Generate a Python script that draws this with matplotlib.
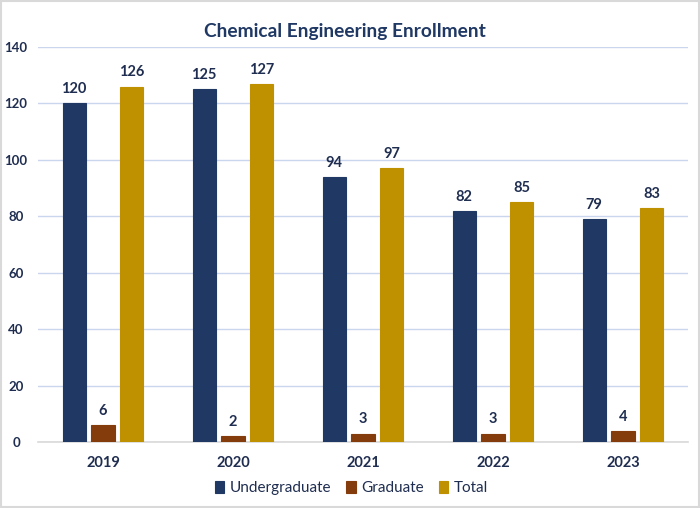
import matplotlib
matplotlib.use("Agg")
import matplotlib.pyplot as plt
import numpy as np

years = ["2019", "2020", "2021", "2022", "2023"]
undergraduate = [120, 125, 94, 82, 79]
graduate = [6, 2, 3, 3, 4]
total = [126, 127, 97, 85, 83]

plt.rcParams['font.family'] = ['Lato', 'DejaVu Sans']
navy = "#1F3864"
brown = "#843C0C"
gold = "#BF9000"
txt = "#1F2D50"

fig = plt.figure(figsize=(7, 5.08), dpi=100)
ax = fig.add_axes([38/700, 1-442/508, 650/700, 395/508])

x = np.arange(len(years))
w = 0.177
off = 0.223
series = [(undergraduate, navy, "Undergraduate"), (graduate, brown, "Graduate"), (total, gold, "Total")]
for i, (vals, col, lab) in enumerate(series):
    bars = ax.bar(x + (i-1)*off, vals, w, color=col, label=lab, zorder=3, edgecolor=col, linewidth=0.8)
    for b, v in zip(bars, vals):
        ax.text(b.get_x()+b.get_width()/2, v + 2.5, str(v), ha='center', va='bottom',
                fontsize=10.5, fontweight='bold', color=txt)

ax.set_xlim(-0.5, 4.5)
ax.set_ylim(0, 140)
ax.set_yticks(range(0, 141, 20))
ax.yaxis.grid(True, color="#C9D6EE", linewidth=1, zorder=0)
ax.set_axisbelow(True)
for s in ['top', 'right', 'left']:
    ax.spines[s].set_visible(False)
ax.spines['bottom'].set_color("#D9D9D9")
ax.spines['bottom'].set_linewidth(1.2)
ax.tick_params(axis='y', length=0, labelsize=9.5, colors=txt, pad=15.8)
ax.tick_params(axis='x', length=0, labelsize=10.5, colors=txt, pad=10)
ax.set_xticks(x)
ax.set_xticklabels(years)
for lbl in ax.get_xticklabels() + ax.get_yticklabels():
    lbl.set_fontweight('bold')
for lbl in ax.get_yticklabels():
    lbl.set_horizontalalignment('center')

fig.text(0.493, 1-31/508, "Chemical Engineering Enrollment", ha='center', va='center',
         fontsize=13.8, fontweight='bold', color=navy)

leg = fig.legend(loc='center', bbox_to_anchor=(0.502, 1-488/508), ncol=3, frameon=False,
                 fontsize=11, handlelength=0.6, handleheight=0.8, handletextpad=0.35,
                 columnspacing=1.0)
for t in leg.get_texts():
    t.set_color(txt)

border = plt.Rectangle((0.001, 0.001), 0.998, 0.998, transform=fig.transFigure,
                       fill=False, edgecolor="#D9D9D9", linewidth=1.5)
fig.patches.append(border)

fig.savefig("out.png", dpi=100)
